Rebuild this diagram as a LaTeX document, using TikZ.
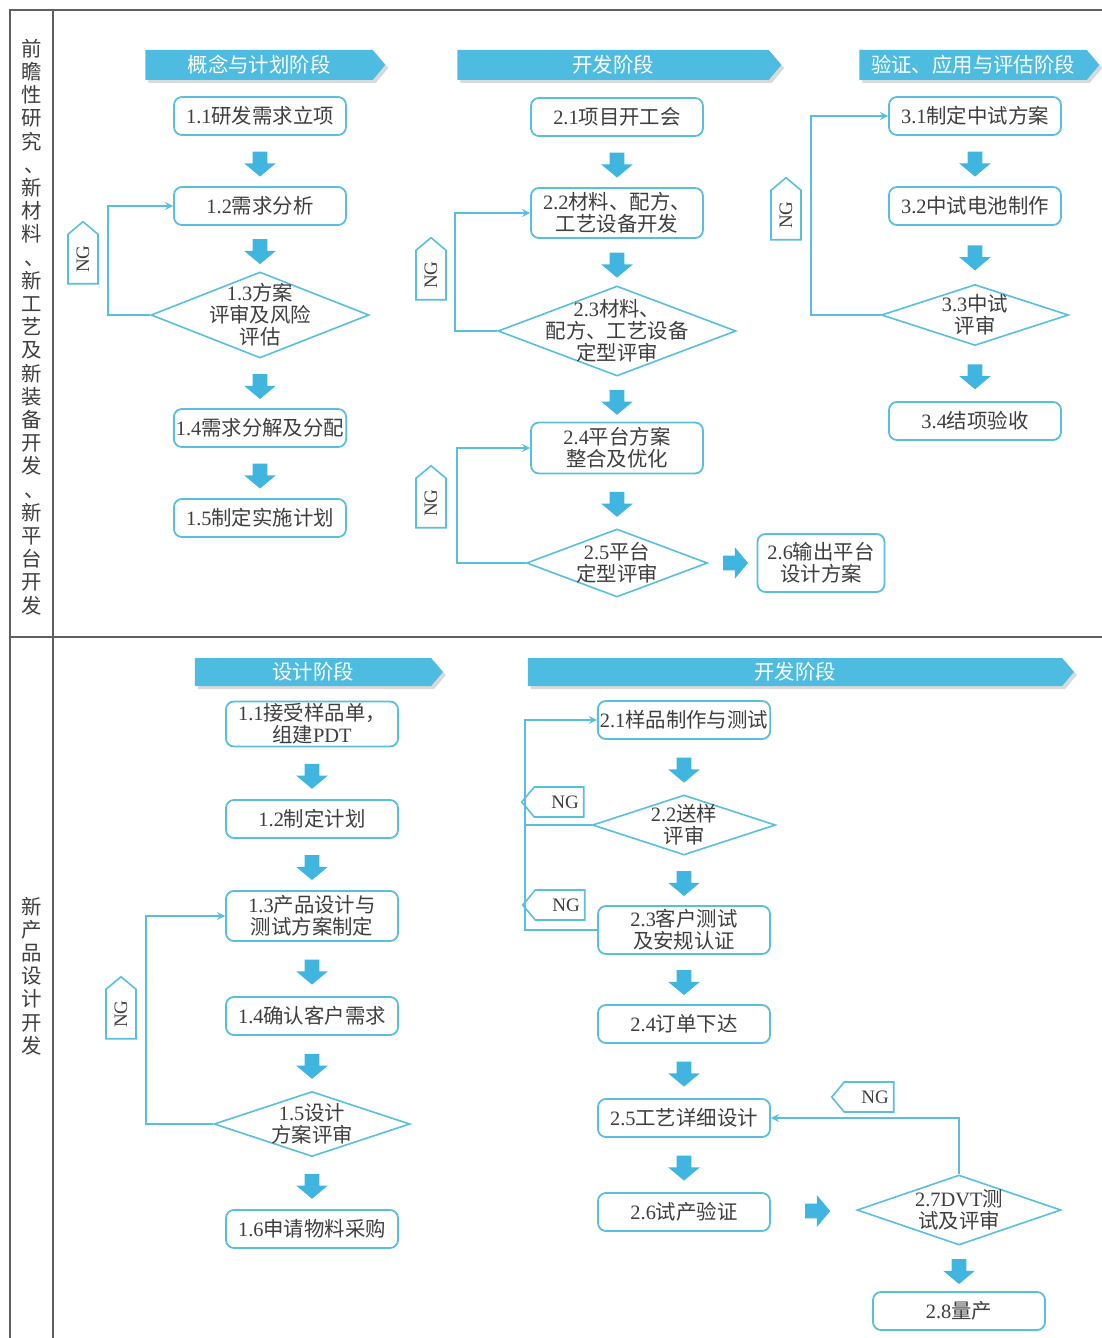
\documentclass[tikz,border=0pt]{standalone}
\usepackage{fontspec}
\setmainfont{Liberation Serif}
\newfontfamily\cjk{Noto Sans CJK SC}
\usetikzlibrary{shapes.geometric, shapes.arrows, shapes.symbols, shadows, arrows}

\definecolor{boxblue}{RGB}{88,191,222}
\definecolor{barblue}{RGB}{78,188,224}
\definecolor{fatblue}{RGB}{64,181,224}
\definecolor{inkgray}{RGB}{62,62,62}
\definecolor{framegray}{RGB}{95,95,95}

\newcommand{\stepno}[1]{{\rmfamily #1}}
\newcommand{\lanecomma}{\kern3pt 、}

\tikzstyle{process} = [
    rectangle,
    rounded corners = 4pt,
    minimum width = 86pt,
    minimum height = 19pt,
    inner sep = 1pt,
    align = center,
    draw = boxblue,
    line width = 0.9pt,
    fill = white,
    text = inkgray,
    font = \cjk\fontsize{10.2}{11}\selectfont
]
\tikzstyle{decision} = [
    diamond,
    inner sep = 0pt,
    draw = boxblue,
    line width = 0.8pt,
    fill = white
]
\tikzstyle{decisiontext} = [
    align = center,
    text = inkgray,
    font = \cjk\fontsize{10.2}{11}\selectfont
]
\tikzstyle{phase} = [
    signal,
    signal to = east,
    signal pointer angle = 100,
    minimum height = 15pt,
    inner sep = 0pt,
    fill = barblue,
    text = white,
    font = \cjk\fontsize{10.2}{11}\selectfont,
    drop shadow = {shadow xshift = 1.5pt, shadow yshift = -1.5pt,
        fill = gray, opacity = 0.3}
]
\tikzstyle{ngtag} = [
    signal,
    signal pointer angle = 100,
    minimum width = 31pt,
    minimum height = 15pt,
    inner sep = 0pt,
    draw = boxblue,
    line width = 0.8pt,
    fill = white,
    text = inkgray,
    font = \fontsize{9.5}{10}\selectfont
]
\tikzstyle{fatarrow} = [
    single arrow,
    minimum height = 12.5pt,
    minimum width = 15.5pt,
    single arrow head extend = 4.2pt,
    single arrow tip angle = 100,
    inner sep = 3.5pt,
    fill = fatblue
]
\tikzstyle{flowdown} = [fatarrow, rotate = -90]
\tikzstyle{flowright} = [fatarrow]
\tikzstyle{loopline} = [draw = boxblue, line width = 0.8pt]
\tikzstyle{arrow} = [loopline, ->, >=stealth]
\tikzstyle{lane} = [
    align = center,
    text = inkgray,
    font = \cjk\fontsize{10.2}{11.6}\selectfont
]
\tikzstyle{frameline} = [draw = framegray, line width = 0.8pt]

\begin{document}
\begin{tikzpicture}[x = 0.5pt, y = -0.5pt, node distance = 45pt]
    \useasboundingbox (0,0) rectangle (1102,1338);

    % table frame
    \draw [frameline] (10,1338) -- (10,10) -- (1102,10);
    \draw [frameline] (53,10) -- (53,1338);
    \draw [frameline] (10,637) -- (1102,637);

    \node (research lane) [lane] at (32,327)
        {前\\瞻\\性\\研\\究\\\lanecomma\\新\\材\\料\\\lanecomma\\新\\工\\艺\\及\\新\\装\\备\\开\\发\\\lanecomma\\新\\平\\台\\开\\发};
    \node (product lane) [lane] at (32,976)
        {新\\产\\品\\设\\计\\开\\发};

    % upper part
    \node (concept phase) [phase, minimum width = 120pt] at (259,65)
        {概念与计划阶段};
    \node (develop phase) [phase, minimum width = 162pt] at (613,65)
        {开发阶段};
    \node (verify phase) [phase, minimum width = 120pt] at (973,65)
        {验证、应用与评估阶段};

    \node (project approval) [process] at (260,116)
        {\stepno{1.1}研发需求立项};

    \node (demand analysis) [process, below of = project approval]
        {\stepno{1.2}需求分析};

    \path (project approval) -- node[flowdown]{} (demand analysis);

    \node
        (scheme review)
        [
            decision,
            below of = demand analysis, yshift = -9.5pt,
            minimum width = 109pt, minimum height = 43pt,
            label = {[decisiontext]center:{\stepno{1.3}方案\\评审及风险\\评估}}
        ]
        {};

    \path (demand analysis) -- node[flowdown]{} (scheme review);

    \node
        (demand breakdown)
        [process, below of = scheme review, yshift = -11.5pt]
        {\stepno{1.4}需求分解及分配};

    \path (scheme review) -- node[flowdown]{} (demand breakdown);

    \node
        (implement plan)
        [process, below of = demand breakdown]
        {\stepno{1.5}制定实施计划};

    \path (demand breakdown) -- node[flowdown]{} (implement plan);

    \node (ng scheme) [ngtag, signal to = east, rotate = 90] at (83,259) {NG};

    \draw [arrow]
        (scheme review.west) -- ++(-42,0) |- (demand analysis.west);

    \node (kickoff meeting) [process] at (617,117)
        {\stepno{2.1}项目开工会};

    \node
        (material development)
        [process, below of = kickoff meeting, yshift = -3pt, minimum height = 25pt]
        {\stepno{2.2}材料、配方、\\工艺设备开发};

    \path (kickoff meeting) -- node[flowdown]{} (material development);

    \node
        (material review)
        [
            decision,
            below of = material development, yshift = -14pt,
            minimum width = 119pt, minimum height = 45pt,
            label = {[decisiontext]center:{\stepno{2.3}材料、\\配方、工艺设备\\定型评审}}
        ]
        {};

    \path (material development) -- node[flowdown]{} (material review);

    \node
        (platform integration)
        [process, below of = material review, yshift = -13.5pt, minimum height = 25.5pt]
        {\stepno{2.4}平台方案\\整合及优化};

    \path (material review) -- node[flowdown]{} (platform integration);

    \node
        (platform review)
        [
            decision,
            below of = platform integration, yshift = -12.5pt,
            minimum width = 90.5pt, minimum height = 34pt,
            label = {[decisiontext]center:{\stepno{2.5}平台\\定型评审}}
        ]
        {};

    \path (platform integration) -- node[flowdown]{} (platform review);

    \node
        (platform output)
        [
            process,
            right of = platform review, xshift = 57pt,
            minimum width = 63.5pt, minimum height = 29pt
        ]
        {\stepno{2.6}输出平台\\设计方案};

    \path (platform review) -- node[flowright]{} (platform output);

    \node (ng material) [ngtag, signal to = east, rotate = 90] at (431,275) {NG};
    \node (ng platform) [ngtag, signal to = east, rotate = 90] at (431,503) {NG};

    \draw [arrow]
        (material review.west) -- ++(-42,0) |- (material development.west);
    \draw [arrow]
        (platform review.west) -- ++(-69,0) |- (platform integration.west);

    \node (pilot scheme) [process] at (975,116)
        {\stepno{3.1}制定中试方案};

    \node (pilot cell) [process, below of = pilot scheme]
        {\stepno{3.2}中试电池制作};

    \path (pilot scheme) -- node[flowdown]{} (pilot cell);

    \node
        (pilot review)
        [
            decision,
            below of = pilot cell, yshift = -9.5pt,
            minimum width = 93.5pt, minimum height = 30.5pt,
            label = {[decisiontext]center:{\stepno{3.3}中试\\评审}}
        ]
        {};

    \path (pilot cell) -- node[flowdown]{} (pilot review);

    \node
        (project acceptance)
        [process, below of = pilot review, yshift = -8pt]
        {\stepno{3.4}结项验收};

    \path (pilot review) -- node[flowdown]{} (project acceptance);

    \node (ng pilot) [ngtag, signal to = east, rotate = 90] at (786,215) {NG};

    \draw [arrow]
        (pilot review.west) -- ++(-70,0) |- (pilot scheme.west);

    % lower part
    \node (design phase) [phase, minimum width = 124pt, minimum height = 14pt] at (313,672)
        {设计阶段};
    \node (product phase) [phase, minimum width = 273pt, minimum height = 14pt] at (795,672)
        {开发阶段};

    \node (sample order) [process, minimum height = 22.5pt] at (312,724)
        {\stepno{1.1}接受样品单，\\组建\stepno{PDT}};

    \node
        (design plan)
        [process, below of = sample order, yshift = -2.5pt]
        {\stepno{1.2}制定计划};

    \path (sample order) -- node[flowdown]{} (design plan);

    \node
        (product design)
        [process, below of = design plan, yshift = -3.5pt, minimum height = 25pt]
        {\stepno{1.3}产品设计与\\测试方案制定};

    \path (design plan) -- node[flowdown]{} (product design);

    \node
        (confirm needs)
        [process, below of = product design, yshift = -5pt]
        {\stepno{1.4}确认客户需求};

    \path (product design) -- node[flowdown]{} (confirm needs);

    \node
        (design review)
        [
            decision,
            below of = confirm needs, yshift = -9pt,
            minimum width = 98pt, minimum height = 32.5pt,
            label = {[decisiontext]center:{\stepno{1.5}设计\\方案评审}}
        ]
        {};

    \path (confirm needs) -- node[flowdown]{} (design review);

    \node
        (material purchase)
        [process, below of = design review, yshift = -7.5pt]
        {\stepno{1.6}申请物料采购};

    \path (design review) -- node[flowdown]{} (material purchase);

    \node (ng design) [ngtag, signal to = east, rotate = 90] at (121,1014) {NG};

    \draw [arrow]
        (design review.west) -- ++(-67,0) |- (product design.west);

    \node (sample making) [process] at (684,720)
        {\stepno{2.1}样品制作与测试};

    \node
        (sample review)
        [
            decision,
            below of = sample making, yshift = -7.5pt,
            minimum width = 91.5pt, minimum height = 30pt,
            label = {[decisiontext]center:{\stepno{2.2}送样\\评审}}
        ]
        {};

    \path (sample making) -- node[flowdown]{} (sample review);

    \node
        (customer test)
        [process, below of = sample review, yshift = -7.5pt, minimum height = 24pt]
        {\stepno{2.3}客户测试\\及安规认证};

    \path (sample review) -- node[flowdown]{} (customer test);

    \node
        (order release)
        [process, below of = customer test, yshift = -2pt]
        {\stepno{2.4}订单下达};

    \path (customer test) -- node[flowdown]{} (order release);

    \node
        (process design)
        [process, below of = order release, yshift = -2pt]
        {\stepno{2.5}工艺详细设计};

    \path (order release) -- node[flowdown]{} (process design);

    \node
        (trial production)
        [process, below of = process design, yshift = -2pt]
        {\stepno{2.6}试产验证};

    \path (process design) -- node[flowdown]{} (trial production);

    \node
        (dvt review)
        [
            decision,
            right of = trial production, xshift = 92.5pt, yshift = 1pt,
            minimum width = 102pt, minimum height = 35pt,
            label = {[decisiontext]center:{\stepno{2.7DVT}测\\试及评审}}
        ]
        {};

    \path (trial production) -- node[flowright]{} (dvt review);

    \node
        (mass production)
        [process, below of = dvt review, yshift = -5.5pt]
        {\stepno{2.8}量产};

    \path (dvt review) -- node[flowdown]{} (mass production);

    \node (ng sample) [ngtag, signal to = west] at (559,802) {\hspace{6pt}NG};
    \node (ng customer) [ngtag, signal to = west] at (560,905) {\hspace{6pt}NG};
    \node (ng dvt) [ngtag, signal to = west] at (869,1097) {\hspace{6pt}NG};

    \draw [arrow]
        (customer test.west) -- ++(-72,0) |- (sample making.west);
    \draw [loopline]
        (sample review.west) -- ++(-68,0);
    \draw [arrow]
        (dvt review.north) |- (process design.east);

\end{tikzpicture}
\end{document}
